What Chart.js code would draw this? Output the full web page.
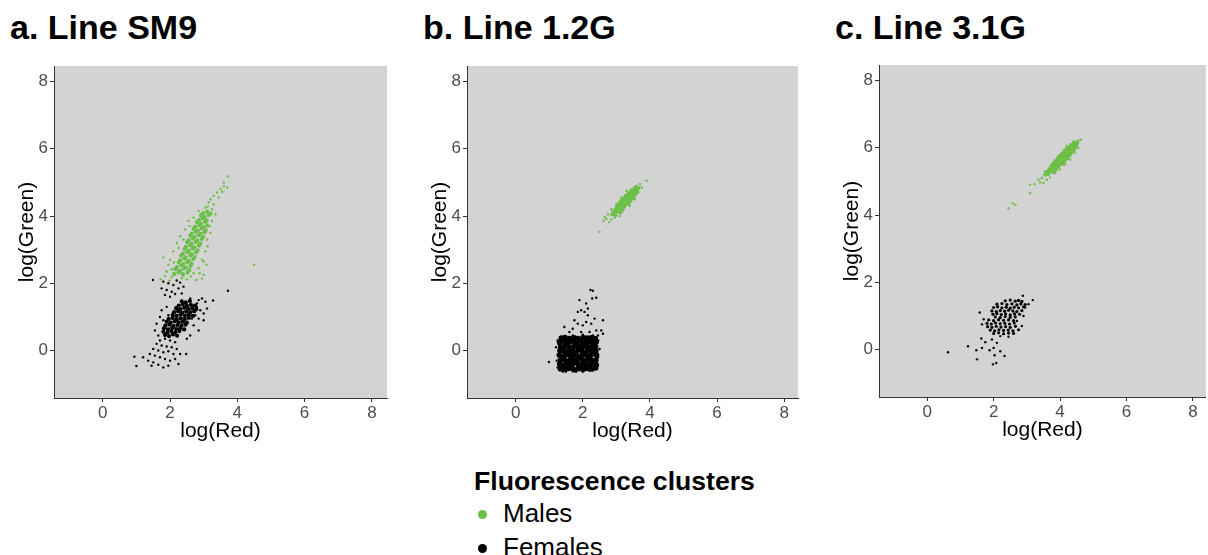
<!DOCTYPE html>
<html>
<head>
<meta charset="utf-8">
<script src="https://cdn.jsdelivr.net/npm/chart.js@4.4.1/dist/chart.umd.min.js"></script>
<style>
  html, body { margin: 0; padding: 0; background: #fff; width: 1208px; height: 555px; overflow: hidden;
    font-family: "Liberation Sans", Arial, sans-serif; }
  canvas { position: absolute; }
  .panel-title { position: absolute; top: 10px; font-size: 34px; line-height: 34px; font-weight: bold; color: #000; white-space: nowrap; }
  .legend-title { position: absolute; left: 474px; top: 468px; font-size: 26.6px; line-height: 26px; font-weight: bold; color: #000; white-space: nowrap; }
  .legend-item { position: absolute; left: 503px; font-size: 26px; line-height: 26px; color: #000; white-space: nowrap; }
  .legend-dot { position: absolute; left: 478px; width: 9px; height: 9px; border-radius: 50%; }
</style>
</head>
<body>
<div class="panel-title" id="title0" style="left:10px"></div>
<div class="panel-title" id="title1" style="left:423px"></div>
<div class="panel-title" id="title2" style="left:835px"></div>
<canvas id="panelA" width="400" height="390" style="left:0px;top:60px"></canvas>
<canvas id="panelB" width="398" height="390" style="left:413px;top:60px"></canvas>
<canvas id="panelC" width="383" height="390" style="left:825px;top:59px"></canvas>
<div id="legend"></div>

<script>
const panelTitles = ["a. Line SM9", "b. Line 1.2G", "c. Line 3.1G"];
const tickValues = [0, 2, 4, 6, 8];
const xTitle = "log(Red)";
const yTitle = "log(Green)";
const legendTitle = "Fluorescence clusters";
const seriesNames = ["Males", "Females"];

const maleColor = "#6cbf47";
const femaleColor = "#000000";
const fontFamily = "'Liberation Sans', Arial, sans-serif";

// ===== Line SM9 =====
const sm9MalesCore = [
  [2.12,2.28],[2.25,2.33],[2.38,2.27],[2.52,2.32],
  [2.16,2.42],[2.30,2.37],[2.42,2.44],[2.57,2.39],
  [2.20,2.48],[2.34,2.53],[2.47,2.47],[2.61,2.52],
  [2.26,2.62],[2.39,2.57],[2.51,2.63],[2.64,2.58],
  [2.30,2.68],[2.43,2.73],[2.56,2.67],[2.69,2.72],
  [2.33,2.82],[2.46,2.77],[2.60,2.83],[2.73,2.78],
  [2.38,2.88],[2.51,2.93],[2.64,2.87],[2.77,2.92],
  [2.43,3.02],[2.56,2.97],[2.68,3.03],[2.82,2.98],
  [2.47,3.08],[2.60,3.13],[2.72,3.07],[2.86,3.12],
  [2.51,3.22],[2.64,3.17],[2.77,3.23],[2.90,3.18],
  [2.55,3.28],[2.68,3.33],[2.81,3.27],[2.94,3.32],
  [2.60,3.42],[2.72,3.37],[2.85,3.43],[2.98,3.38],
  [2.65,3.48],[2.77,3.53],[2.90,3.47],[3.02,3.52],
  [2.70,3.62],[2.82,3.57],[2.94,3.63],[3.06,3.58],
  [2.75,3.68],[2.87,3.73],[2.99,3.67],[3.10,3.72],
  [2.80,3.82],[2.92,3.77],[3.04,3.83],
  [2.86,3.88],[2.97,3.93],[3.09,3.87],
  [2.92,4.02],[3.03,3.97],[3.15,4.03],
  [2.98,4.08],[3.10,4.13],[3.20,4.07]
];
const sm9MalesSpread = [
  [1.72,2.12],[1.85,2.22],[1.98,2.08],[2.05,2.18],[2.20,2.10],[2.35,2.15],[2.50,2.12],
  [2.62,2.20],[2.78,2.10],[2.95,2.14],[3.00,2.25],[2.70,2.30],[1.90,2.35],[1.80,2.77],
  [1.95,2.55],[2.00,2.70],[2.10,2.95],[2.20,3.20],[2.30,3.40],[2.45,3.60],[2.55,3.85],
  [2.85,2.45],[2.95,2.70],[3.05,2.95],[3.10,3.30],[3.20,3.50],[3.25,3.85],[3.35,4.05],
  [3.30,4.35],[3.15,4.40],[3.05,4.25],[3.20,4.50],[3.30,4.60],[3.40,4.70],[3.50,4.80],
  [3.55,4.72],[3.60,4.88],[3.70,4.85],[3.45,4.55],[3.72,5.18],[3.60,5.00],[4.50,2.55],
  [2.15,2.25],[2.40,2.22],[2.88,2.30],[3.08,2.55],[2.05,2.42],[2.12,2.62],[2.25,3.05],
  [2.40,3.30],[2.58,3.70],[2.70,3.95],[2.85,4.15],[3.00,2.65],[3.12,3.10],[3.18,3.70],
  [3.25,4.20],[3.12,4.28]
];
const sm9FemalesCore = [
  [1.85,0.46],[1.97,0.43],[2.09,0.48],[2.21,0.44],
  [1.80,0.56],[1.92,0.53],[2.04,0.57],[2.16,0.54],[2.28,0.58],
  [1.82,0.66],[1.94,0.63],[2.06,0.67],[2.18,0.64],[2.30,0.66],[2.42,0.63],
  [1.86,0.74],[1.98,0.77],[2.10,0.73],[2.22,0.76],[2.34,0.74],[2.46,0.77],
  [1.90,0.86],[2.02,0.83],[2.14,0.87],[2.26,0.84],[2.38,0.86],[2.50,0.83],
  [1.96,0.94],[2.08,0.97],[2.20,0.93],[2.32,0.96],[2.44,0.94],[2.56,0.97],
  [2.08,1.06],[2.20,1.03],[2.32,1.07],[2.44,1.04],[2.56,1.06],[2.68,1.03],
  [2.12,1.14],[2.24,1.17],[2.36,1.13],[2.48,1.16],[2.60,1.14],[2.72,1.17],
  [2.18,1.26],[2.30,1.23],[2.42,1.27],[2.54,1.24],[2.66,1.26],[2.78,1.23],
  [2.26,1.34],[2.38,1.37],[2.50,1.33],[2.62,1.36],[2.74,1.34],
  [2.35,1.46],[2.47,1.43],[2.59,1.47]
];
const sm9FemalesSpread = [
  [1.49,2.10],[1.80,2.05],[1.95,2.00],[2.10,1.95],[2.20,2.08],[2.30,2.02],[1.75,1.85],
  [1.90,1.80],[2.05,1.75],[2.25,1.85],[2.40,1.90],[1.85,1.65],[2.00,1.60],[2.15,1.68],
  [2.35,1.70],[2.60,1.55],[2.85,1.50],[2.95,1.55],[3.05,1.45],[3.28,1.49],[3.72,1.78],
  [2.80,1.30],[2.90,1.20],[3.00,1.10],[3.10,1.25],[2.85,0.95],[3.00,0.90],[2.70,0.75],
  [2.85,0.60],[2.60,0.45],[2.50,0.35],[1.70,1.00],[1.60,0.80],[1.55,0.60],[1.65,0.45],
  [1.75,1.20],[1.90,1.30],[1.70,0.30],[1.85,0.35],[2.00,0.30],[2.15,0.25],[1.60,0.20],
  [1.75,0.15],[1.90,0.12],[2.05,0.10],[1.50,0.05],[1.65,0.00],[1.80,-0.05],[1.95,-0.02],
  [2.10,-0.10],[1.40,-0.10],[1.55,-0.15],[1.70,-0.20],[1.85,-0.25],[2.00,-0.30],
  [1.35,-0.30],[1.50,-0.35],[1.65,-0.42],[1.80,-0.50],[1.95,-0.45],[2.20,0.05],
  [2.30,-0.10],[0.94,-0.18],[1.00,-0.46],[2.48,-0.10],[2.25,-0.40],[1.45,-0.45],
  [1.20,-0.20],[2.15,-0.25],[2.75,1.05],[2.65,0.95],[2.80,1.40],[1.95,1.05],[1.80,0.90]
];

// ===== Line 1.2G =====
const g12MalesCore = [
  [2.88,4.05],[2.98,4.03],
  [2.92,4.12],[3.02,4.14],[3.12,4.11],
  [2.98,4.20],[3.08,4.22],[3.18,4.19],
  [3.03,4.28],[3.13,4.30],[3.23,4.27],
  [3.08,4.36],[3.18,4.38],[3.28,4.35],[3.36,4.37],
  [3.14,4.44],[3.24,4.46],[3.34,4.43],[3.42,4.45],
  [3.20,4.52],[3.30,4.54],[3.40,4.51],[3.48,4.53],
  [3.28,4.60],[3.37,4.62],[3.46,4.59],[3.54,4.61],
  [3.36,4.68],[3.45,4.70],[3.54,4.67],[3.60,4.69],
  [3.45,4.76],[3.54,4.78],[3.62,4.75],
  [3.55,4.84],[3.65,4.83]
];
const g12MalesSpread = [
  [2.50,3.53],[2.62,3.85],[2.70,3.92],[2.78,3.82],[2.65,3.97],[2.85,3.90],[2.75,4.05],
  [2.95,3.95],[3.10,4.00],[2.85,4.20],[3.00,4.35],[3.15,4.55],[3.30,4.75],[3.40,4.30],
  [3.55,4.50],[3.65,4.70],[3.75,4.85],[3.70,4.95],[3.90,5.05],[3.60,4.90]
];
const g12FemalesCore = [
  [1.33,-0.54],[1.46,-0.56],[1.58,-0.53],[1.73,-0.57],[1.85,-0.54],[2.00,-0.56],[2.12,-0.53],[2.27,-0.55],[2.38,-0.52],
  [1.31,-0.40],[1.45,-0.43],[1.60,-0.41],[1.71,-0.39],[1.87,-0.42],[1.98,-0.40],[2.14,-0.43],[2.25,-0.40],[2.40,-0.42],
  [1.33,-0.29],[1.44,-0.27],[1.59,-0.30],[1.73,-0.28],[1.86,-0.26],[2.00,-0.29],[2.13,-0.27],[2.27,-0.30],[2.39,-0.28],
  [1.30,-0.13],[1.46,-0.15],[1.58,-0.12],[1.72,-0.14],[1.85,-0.16],[1.99,-0.13],[2.12,-0.15],[2.26,-0.12],[2.41,-0.14],
  [1.32,0.00],[1.45,-0.02],[1.60,0.01],[1.71,-0.01],[1.87,0.02],[1.98,-0.02],[2.14,0.00],[2.25,0.02],[2.39,-0.01],
  [1.34,0.11],[1.46,0.13],[1.59,0.10],[1.73,0.12],[1.86,0.14],[2.00,0.11],[2.13,0.13],[2.27,0.10],[2.38,0.12],
  [1.31,0.25],[1.45,0.27],[1.58,0.24],[1.72,0.26],[1.85,0.28],[1.99,0.25],[2.12,0.27],[2.26,0.24],[2.40,0.26],
  [1.36,0.37],[1.47,0.39],[1.60,0.36],[1.74,0.38],[1.86,0.36],[2.01,0.39],[2.13,0.37],[2.25,0.38],[2.37,0.36],
  [1.39,-0.47],[1.66,-0.48],[1.93,-0.47],[2.20,-0.48],[1.39,-0.21],[1.66,-0.20],[1.93,-0.21],[2.20,-0.20],
  [1.39,0.05],[1.66,0.06],[1.93,0.05],[2.20,0.06],[1.39,0.31],[1.66,0.32],[1.93,0.31],[2.20,0.32],
  [1.52,-0.34],[1.79,-0.35],[2.06,-0.34],[2.33,-0.35],[1.52,-0.08],[1.79,-0.07],[2.06,-0.08],[2.33,-0.07],
  [1.52,0.18],[1.79,0.19],[2.06,0.18],[2.33,0.19],[1.52,-0.47],[2.06,-0.48],[1.79,0.31],[2.33,0.31]
];
const g12FemalesSpread = [
  [2.23,1.80],[2.30,1.78],[2.28,1.55],[2.40,1.57],[1.90,1.50],[2.10,1.40],[2.15,1.25],
  [1.95,1.20],[1.85,1.15],[2.05,1.15],[2.15,1.05],[1.75,0.90],[1.85,0.80],[2.00,0.75],
  [2.10,0.85],[2.25,0.80],[2.35,0.95],[2.60,0.90],[2.55,0.60],[2.60,0.50],[2.40,0.60],
  [1.45,0.70],[1.60,0.55],[1.70,0.65],[1.95,0.55],[2.20,0.55],[2.45,0.45],[1.20,0.10],
  [1.22,-0.30],[0.99,-0.34],[1.25,0.30],[2.45,-0.20],[2.50,0.05],[1.50,-0.62],[1.80,-0.63],
  [2.20,-0.60],[1.25,-0.50],[1.27,0.20],[2.45,-0.45],[2.46,0.30],[1.40,-0.62],[2.00,-0.62],
  [2.30,0.45],[1.70,0.45],[2.00,0.47]
];

// ===== Line 3.1G =====
const g31MalesCore = [
  [3.55,5.20],[3.65,5.22],
  [3.62,5.28],[3.72,5.30],[3.82,5.27],
  [3.68,5.36],[3.78,5.38],[3.88,5.35],
  [3.74,5.44],[3.84,5.46],[3.94,5.43],
  [3.80,5.52],[3.90,5.54],[4.00,5.51],[4.08,5.53],
  [3.86,5.60],[3.96,5.62],[4.06,5.59],[4.14,5.61],
  [3.93,5.68],[4.03,5.70],[4.12,5.67],[4.21,5.69],
  [4.00,5.76],[4.10,5.78],[4.19,5.75],[4.28,5.77],
  [4.08,5.84],[4.17,5.86],[4.26,5.83],[4.34,5.85],
  [4.15,5.92],[4.24,5.94],[4.33,5.91],[4.41,5.93],
  [4.23,6.00],[4.32,6.02],[4.40,5.99],[4.47,6.01],
  [4.32,6.08],[4.41,6.10],[4.49,6.07],
  [4.42,6.16],[4.52,6.15]
];
const g31MalesSpread = [
  [2.45,4.20],[2.58,4.35],[2.66,4.30],[3.10,4.65],[3.10,4.90],[3.23,4.92],[3.40,4.97],
  [3.50,4.95],[3.45,5.10],[3.60,5.05],[3.70,5.12],[3.85,5.25],[4.00,5.35],[4.15,5.50],
  [4.30,5.65],[4.45,5.85],[4.55,6.00],[4.63,6.24],[4.55,6.22],[3.55,5.30],[3.75,5.50],
  [3.95,5.75],[4.20,6.05],[3.35,5.05]
];
const g31FemalesCore = [
  [2.35,1.45],[2.50,1.47],[2.65,1.44],[2.75,1.46],[2.85,1.43],
  [2.10,1.35],[2.25,1.37],[2.40,1.34],[2.55,1.36],[2.70,1.33],[2.82,1.36],[2.95,1.34],
  [2.00,1.25],[2.12,1.27],[2.25,1.24],[2.38,1.26],[2.50,1.23],[2.62,1.26],[2.75,1.24],[2.90,1.27],
  [1.95,1.15],[2.08,1.13],[2.20,1.16],[2.33,1.14],[2.45,1.17],[2.58,1.15],[2.70,1.13],[2.85,1.16],
  [1.98,1.05],[2.10,1.07],[2.23,1.04],[2.36,1.06],[2.50,1.03],[2.63,1.06],[2.78,1.05],
  [2.05,0.97],[2.20,0.95],[2.35,0.98],[2.50,0.96],[2.65,0.97],
  [1.85,0.88],[2.00,0.86],[2.15,0.89],[2.30,0.87],[2.45,0.88],[2.60,0.86],
  [1.80,0.78],[1.93,0.76],[2.06,0.79],[2.20,0.77],[2.34,0.78],[2.48,0.76],[2.62,0.79],
  [1.82,0.68],[1.95,0.66],[2.08,0.69],[2.22,0.67],[2.36,0.68],[2.50,0.66],[2.66,0.69],
  [1.90,0.58],[2.03,0.56],[2.16,0.59],[2.30,0.57],[2.44,0.58],[2.58,0.56],[2.75,0.59],
  [2.00,0.48],[2.15,0.50],[2.30,0.47],[2.45,0.49],[2.60,0.48]
];
const g31FemalesSpread = [
  [1.58,1.10],[1.65,0.75],[1.70,0.90],[2.70,0.85],[2.85,0.70],[2.90,1.00],[3.05,1.35],
  [3.18,1.47],[2.88,1.60],[2.95,1.25],[2.20,0.40],[2.45,0.38],[1.63,0.33],[1.75,0.22],
  [1.95,0.30],[1.23,0.10],[1.48,-0.02],[1.88,-0.02],[2.03,-0.17],[2.33,-0.19],[1.50,-0.29],
  [1.98,-0.44],[2.08,-0.40],[0.63,-0.08],[2.00,0.05],[1.65,0.05],[2.20,-0.05],[2.10,0.20]
];

const toPoints = (arr) => arr.map(([x, y]) => ({ x, y }));

// gray panel background like the original plot
const panelBackground = {
  id: "panelBackground",
  beforeDraw(chart) {
    const { ctx, chartArea: a } = chart;
    ctx.save();
    ctx.fillStyle = "#d3d3d3";
    ctx.fillRect(a.left, a.top, a.right - a.left, a.bottom - a.top);
    ctx.restore();
  },
};

function pointSet(data, color, radius) {
  return {
    data: toPoints(data),
    backgroundColor: color,
    borderWidth: 0,
    pointRadius: radius,
    pointHoverRadius: radius,
  };
}

function makePanel(canvasId, males, malesSpread, females, femalesSpread, femaleCoreRadius, xMax, rightPad) {
  return new Chart(document.getElementById(canvasId), {
    type: "scatter",
    data: {
      datasets: [
        pointSet(femalesSpread, femaleColor, 1.2),
        pointSet(females, femaleColor, femaleCoreRadius),
        pointSet(malesSpread, maleColor, 1.2),
        pointSet(males, maleColor, 2.1),
      ],
    },
    options: {
      responsive: false,
      animation: false,
      events: [],
      layout: { padding: { left: 0, top: 6, right: rightPad, bottom: 0 } },
      plugins: { legend: { display: false }, tooltip: { enabled: false } },
      scales: {
        x: {
          type: "linear",
          min: -1.45,
          max: xMax,
          afterBuildTicks: (s) => { s.ticks = tickValues.map((v) => ({ value: v })); },
          afterFit: (s) => { s.height = 52; s.paddingLeft = 0; s.paddingRight = 0; },
          grid: { drawOnChartArea: false, drawTicks: true, tickLength: 4, color: "#333" },
          border: { display: true, color: "#333", width: 1 },
          ticks: { color: "#4d4d4d", font: { size: 17, family: fontFamily }, padding: 1, maxRotation: 0 },
          title: { display: true, text: xTitle, color: "#000", font: { size: 21, family: fontFamily }, padding: { top: 0, bottom: 6 } },
        },
        y: {
          type: "linear",
          min: -1.41,
          max: 8.46,
          afterBuildTicks: (s) => { s.ticks = tickValues.map((v) => ({ value: v })); },
          afterFit: (s) => { s.width = 54; s.paddingTop = 0; s.paddingBottom = 0; },
          grid: { drawOnChartArea: false, drawTicks: true, tickLength: 4, color: "#333" },
          border: { display: true, color: "#333", width: 1 },
          ticks: { color: "#4d4d4d", font: { size: 17, family: fontFamily }, padding: 2 },
          title: { display: true, text: yTitle, color: "#000", font: { size: 21, family: fontFamily }, padding: { top: 15, bottom: 0 } },
        },
      },
    },
    plugins: [panelBackground],
  });
}

panelTitles.forEach((t, i) => { document.getElementById("title" + i).textContent = t; });

makePanel("panelA", sm9MalesCore, sm9MalesSpread, sm9FemalesCore, sm9FemalesSpread, 2.1, 8.45, 13);
makePanel("panelB", g12MalesCore, g12MalesSpread, g12FemalesCore, g12FemalesSpread, 2.8, 8.41, 13);
makePanel("panelC", g31MalesCore, g31MalesSpread, g31FemalesCore, g31FemalesSpread, 1.6, 8.39, 0);

// shared legend under the panels
const legend = document.getElementById("legend");
legend.innerHTML = '<div class="legend-title">' + legendTitle + "</div>";
[maleColor, femaleColor].forEach((c, i) => {
  legend.innerHTML +=
    '<span class="legend-dot" style="top:' + (510 + i * 34) + "px;background:" + c + '"></span>' +
    '<div class="legend-item" style="top:' + (500 + i * 34) + 'px">' + seriesNames[i] + "</div>";
});
</script>
</body>
</html>
